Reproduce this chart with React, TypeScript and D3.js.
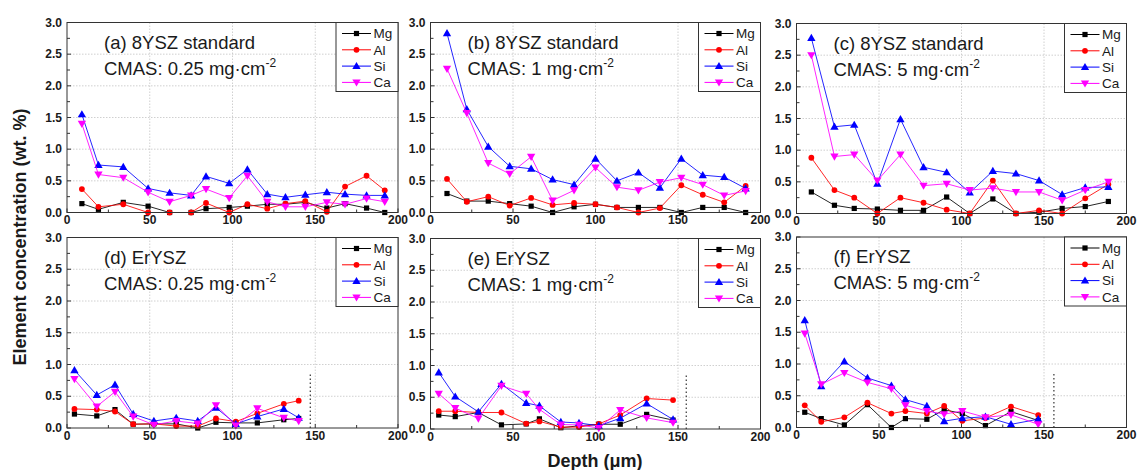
import React from "react";
import * as d3 from "d3";

// Depth (µm) sampling positions for each panel
const depthA = [9, 19, 34, 49, 62, 75, 84, 98, 109, 121, 132, 144, 157, 168, 181, 192];
const depthB = [10, 22, 35, 48, 61, 74, 87, 100, 113, 126, 139, 152, 165, 178, 191];
const depthC = [9, 23, 35, 49, 63, 77, 91, 105, 119, 133, 147, 161, 175, 189];
const depthD = [4.5, 18, 29, 40, 52.5, 66, 79, 90, 102, 115, 131, 140];
const depthE = [5, 15, 29, 43, 58, 66, 79, 90, 102, 115, 131, 147];
const depthF = [5, 15, 29, 43, 57.5, 66, 79, 89.5, 100.5, 114.5, 130, 146.5];

// (a) 8YSZ standard, 0.25 mg/cm2
const mgA = [0.14, 0.05, 0.16, 0.10, 0.0, 0.0, 0.06, 0.08, 0.10, 0.13, 0.13, 0.16, 0.07, 0.14, 0.07, 0.0];
const alA = [0.37, 0.09, 0.13, 0.0, 0.0, 0.0, 0.15, 0.0, 0.13, 0.06, 0.14, 0.18, 0.01, 0.41, 0.58, 0.35];
const siA = [1.55, 0.75, 0.72, 0.38, 0.31, 0.27, 0.57, 0.46, 0.68, 0.29, 0.24, 0.28, 0.32, 0.29, 0.27, 0.27];
const caA = [1.40, 0.60, 0.55, 0.32, 0.17, 0.27, 0.37, 0.23, 0.58, 0.17, 0.09, 0.09, 0.16, 0.13, 0.22, 0.17];

// (b) 8YSZ standard, 1 mg/cm2
const mgB = [0.30, 0.18, 0.18, 0.14, 0.10, 0.0, 0.09, 0.13, 0.08, 0.08, 0.08, 0.0, 0.08, 0.08, 0.0];
const alB = [0.53, 0.17, 0.25, 0.11, 0.23, 0.12, 0.15, 0.13, 0.08, 0.0, 0.07, 0.43, 0.28, 0.16, 0.42];
const siB = [2.83, 1.63, 1.04, 0.73, 0.69, 0.52, 0.44, 0.85, 0.50, 0.63, 0.39, 0.85, 0.59, 0.56, 0.38];
const caB = [2.27, 1.57, 0.78, 0.61, 0.88, 0.19, 0.35, 0.71, 0.40, 0.35, 0.48, 0.55, 0.44, 0.27, 0.34];

// (c) 8YSZ standard, 5 mg/cm2
const mgC = [0.34, 0.13, 0.08, 0.07, 0.05, 0.05, 0.26, 0.0, 0.23, 0.0, 0.02, 0.08, 0.11, 0.19];
const alC = [0.88, 0.37, 0.25, 0.0, 0.25, 0.17, 0.06, 0.0, 0.52, 0.0, 0.05, 0.0, 0.24, 0.46];
const siC = [2.77, 1.37, 1.40, 0.47, 1.49, 0.73, 0.65, 0.33, 0.67, 0.63, 0.52, 0.30, 0.41, 0.42];
const caC = [2.50, 0.90, 0.93, 0.52, 0.93, 0.44, 0.47, 0.37, 0.40, 0.34, 0.34, 0.21, 0.37, 0.50];

// (d) ErYSZ, 0.25 mg/cm2
const mgD = [0.22, 0.19, 0.29, 0.06, 0.065, 0.065, 0.0, 0.09, 0.08, 0.08, 0.13, 0.15];
const alD = [0.30, 0.29, 0.26, 0.06, 0.065, 0.03, 0.03, 0.15, 0.10, 0.23, 0.38, 0.43];
const siD = [0.91, 0.52, 0.68, 0.22, 0.11, 0.16, 0.11, 0.32, 0.065, 0.18, 0.30, 0.16];
const caD = [0.77, 0.34, 0.57, 0.18, 0.05, 0.11, 0.07, 0.36, 0.04, 0.31, 0.16, 0.11];

// (e) ErYSZ, 1 mg/cm2
const mgE = [0.22, 0.195, 0.26, 0.065, 0.08, 0.16, 0.02, 0.05, 0.075, 0.075, 0.23, 0.14];
const alE = [0.28, 0.28, 0.26, 0.26, 0.085, 0.12, 0.03, 0.03, 0.08, 0.22, 0.48, 0.455];
const siE = [0.89, 0.51, 0.27, 0.71, 0.41, 0.365, 0.11, 0.095, 0.05, 0.17, 0.40, 0.15];
const caE = [0.555, 0.33, 0.165, 0.68, 0.555, 0.31, 0.07, 0.065, 0.015, 0.30, 0.175, 0.10];

// (f) ErYSZ, 5 mg/cm2
const mgF = [0.24, 0.14, 0.04, 0.36, 0.0, 0.14, 0.13, 0.28, 0.22, 0.03, 0.25, 0.11];
const alF = [0.35, 0.09, 0.16, 0.39, 0.22, 0.26, 0.22, 0.34, 0.105, 0.15, 0.33, 0.195];
const siF = [1.69, 0.65, 1.04, 0.78, 0.66, 0.44, 0.34, 0.10, 0.145, 0.17, 0.05, 0.13];
const caF = [1.48, 0.68, 0.86, 0.71, 0.61, 0.35, 0.26, 0.21, 0.26, 0.16, 0.20, 0.05];

// Coating thickness marker (dotted line) for the ErYSZ panels
const thicknessD = 147;
const thicknessE = 155;
const thicknessF = 156;
const thicknessLineTop = 0.88;

const panelTitles = ["(a) 8YSZ standard", "(b) 8YSZ standard", "(c) 8YSZ standard", "(d) ErYSZ", "(e) ErYSZ", "(f) ErYSZ"];
const loadings = ["0.25", "1", "5", "0.25", "1", "5"];
const elements = ["Mg", "Al", "Si", "Ca"];
const colors = ["#000000", "#ff0000", "#0000ff", "#ff00ff"];
const markers = ["square", "circle", "up", "down"];
const xTicks = [0, 50, 100, 150, 200];
const yTicks = [0, 0.5, 1.0, 1.5, 2.0, 2.5, 3.0];

const panelData = [
  { depth: depthA, series: [mgA, alA, siA, caA], thickness: null as number | null },
  { depth: depthB, series: [mgB, alB, siB, caB], thickness: null as number | null },
  { depth: depthC, series: [mgC, alC, siC, caC], thickness: null as number | null },
  { depth: depthD, series: [mgD, alD, siD, caD], thickness: thicknessD },
  { depth: depthE, series: [mgE, alE, siE, caE], thickness: thicknessE },
  { depth: depthF, series: [mgF, alF, siF, caF], thickness: thicknessF },
];

// Plot frame positions in the page
const layout = [
  { left: 67, top: 22.5, width: 331, height: 190 },
  { left: 430.5, top: 22.5, width: 330, height: 190 },
  { left: 796.5, top: 23.5, width: 330, height: 190 },
  { left: 67, top: 237.5, width: 331, height: 190.5 },
  { left: 430.5, top: 238.5, width: 330, height: 190.5 },
  { left: 796.5, top: 237, width: 330, height: 190.5 },
];

const FONT = "'Liberation Sans', Arial, Helvetica, sans-serif";

function Marker({ kind, x, y, color }: { kind: string; x: number; y: number; color: string }) {
  if (kind === "square") {
    return <rect x={x - 2.6} y={y - 2.6} width={5.2} height={5.2} fill={color} />;
  }
  if (kind === "circle") {
    return <circle cx={x} cy={y} r={2.9} fill={color} />;
  }
  const sym = d3.symbol().type(d3.symbolTriangle).size(30)();
  return (
    <path
      d={sym || ""}
      fill={color}
      transform={`translate(${x},${y + (kind === "up" ? 0.6 : -0.6)}) rotate(${kind === "down" ? 180 : 0})`}
    />
  );
}

function Panel({ idx }: { idx: number }) {
  const L = layout[idx];
  const P = panelData[idx];
  const x = d3.scaleLinear().domain([0, 200]).range([L.left, L.left + L.width]);
  const y = d3.scaleLinear().domain([0, 3]).range([L.top + L.height, L.top]);
  const line = d3
    .line<[number, number]>()
    .x((d) => x(d[0]))
    .y((d) => y(d[1]));
  const right = L.left + L.width;
  const bottom = L.top + L.height;
  const xMinor = d3.range(0, 201, 25);
  const yMinor = d3.range(0, 3.01, 0.25);
  const legW = 62;
  const legH = 69;
  const legX = right - legW;
  const legY = L.top;

  return (
    <g>
      {/* grid */}
      {xTicks.slice(1, -1).map((t) => (
        <line key={`gx${t}`} x1={x(t)} x2={x(t)} y1={L.top} y2={bottom} stroke="#c4c4c4" strokeWidth={0.8} strokeDasharray="1.5,1.5" />
      ))}
      {yTicks.slice(1, -1).map((t) => (
        <line key={`gy${t}`} x1={L.left} x2={right} y1={y(t)} y2={y(t)} stroke="#c4c4c4" strokeWidth={0.8} strokeDasharray="1.5,1.5" />
      ))}

      {/* ticks (inward) */}
      {xMinor.map((t) => (
        <line key={`tx${t}`} x1={x(t)} x2={x(t)} y1={bottom} y2={bottom - (t % 50 === 0 ? 4 : 3)} stroke="#333" strokeWidth={1} />
      ))}
      {yMinor.map((t) => (
        <line key={`ty${t}`} x1={L.left} x2={L.left + (Math.abs(t * 2 - Math.round(t * 2)) < 1e-6 ? 4 : 3)} y1={y(t)} y2={y(t)} stroke="#333" strokeWidth={1} />
      ))}

      {/* tick labels */}
      {xTicks.map((t) => (
        <text key={`lx${t}`} x={x(t)} y={bottom + 11.5} textAnchor="middle" fontFamily={FONT} fontWeight="bold" fontSize={12} fill="#1a1a1a">
          {t}
        </text>
      ))}
      {yTicks.map((t) => (
        <text key={`ly${t}`} x={L.left - 5} y={y(t)} dy="0.35em" textAnchor="end" fontFamily={FONT} fontWeight="bold" fontSize={12} fill="#1a1a1a">
          {t.toFixed(1)}
        </text>
      ))}

      {/* coating thickness marker */}
      {P.thickness !== null && (
        <line x1={x(P.thickness)} x2={x(P.thickness)} y1={y(0)} y2={y(thicknessLineTop)} stroke="#333" strokeWidth={1.2} strokeDasharray="1.5,2.5" />
      )}

      {/* series */}
      {P.series.map((vals, si) => {
        const pts: [number, number][] = P.depth.map((d, i) => [d, vals[i]]);
        return (
          <g key={`s${si}`}>
            <path d={line(pts) || ""} fill="none" stroke={colors[si]} strokeWidth={1} strokeOpacity={0.85} />
            {pts.map((p, i) => (
              <Marker key={i} kind={markers[si]} x={x(p[0])} y={y(p[1])} color={colors[si]} />
            ))}
          </g>
        );
      })}

      {/* frame */}
      <rect x={L.left} y={L.top} width={L.width} height={L.height} fill="none" stroke="#333" strokeWidth={1} />

      {/* annotation */}
      <text x={L.left + 37} y={L.top + 26} fontFamily={FONT} fontSize={18.5} fill="#1a1a1a">
        {panelTitles[idx]}
      </text>
      <text x={L.left + 37} y={L.top + 52} fontFamily={FONT} fontSize={18.5} fill="#1a1a1a">
        {`CMAS: ${loadings[idx]} mg·cm`}
        <tspan fontSize={12} dy={-8}>-2</tspan>
      </text>

      {/* legend */}
      <rect x={legX} y={legY} width={legW} height={legH} fill="#fff" stroke="#333" strokeWidth={1} />
      {elements.map((el, i) => {
        const cy = legY + 11 + i * 16.3;
        return (
          <g key={el}>
            <line x1={legX + 6} x2={legX + 35} y1={cy} y2={cy} stroke={colors[i]} strokeWidth={1} />
            <Marker kind={markers[i]} x={legX + 20.5} y={cy} color={colors[i]} />
            <text x={legX + 37.5} y={cy} dy="0.36em" fontFamily={FONT} fontSize={13.5} fill="#1a1a1a">
              {el}
            </text>
          </g>
        );
      })}
    </g>
  );
}

export default function App() {
  return (
    <svg
      width={1139}
      height={470}
      viewBox="0 0 1139 470"
      style={{ position: "absolute", left: 0, top: 0, background: "#fff" }}
    >
      <rect x={0} y={0} width={1139} height={470} fill="#fff" />
      {layout.map((_, i) => (
        <Panel key={i} idx={i} />
      ))}
      <text
        transform="translate(26,237) rotate(-90)"
        textAnchor="middle"
        fontFamily={FONT}
        fontWeight="bold"
        fontSize={18}
        fill="#1a1a1a"
      >
        Element concentration (wt. %)
      </text>
      <text x={595} y={467} textAnchor="middle" fontFamily={FONT} fontWeight="bold" fontSize={18} fill="#1a1a1a">
        Depth (μm)
      </text>
    </svg>
  );
}
